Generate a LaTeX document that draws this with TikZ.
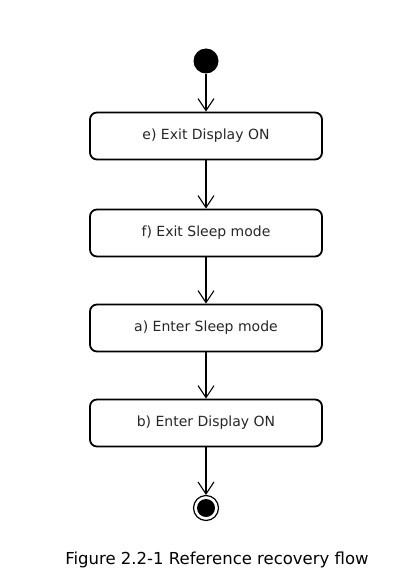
\documentclass[tikz,border=0pt]{standalone}
\usepackage{fontspec}
\setmainfont{DejaVu Sans}
\usetikzlibrary{arrows.meta}
\begin{document}
\begin{tikzpicture}[x=1pt,y=-1pt,
  actbox/.style={draw=black, line width=1.8pt, rounded corners=7pt, minimum width=232pt, minimum height=47pt, inner sep=0pt, text=black!85, font=\fontsize{14}{16}\selectfont},
  flow/.style={draw=black, line width=1.1pt, -{Straight Barb[length=12pt, width=16pt, line width=1.1pt]}},
  initnode/.style={circle, fill=black, minimum size=25pt, inner sep=0pt},
  finalring/.style={circle, draw=black, line width=1.2pt, fill=white, minimum size=25pt, inner sep=0pt},
  finaldot/.style={circle, fill=black, minimum size=18pt, inner sep=0pt}]
\useasboundingbox (0,0) rectangle (414,580);
\node[initnode] (start) at (206,61) {};
\node[actbox] (e) at (206,136) {e) Exit Display ON};
\node[actbox] (f) at (206,233) {f) Exit Sleep mode};
\node[actbox] (a) at (206,328) {a) Enter Sleep mode};
\node[actbox] (b) at (206,423) {b) Enter Display ON};
\node[finalring] (end) at (206,508) {};
\node[finaldot] (enddot) at (206,508) {};
\draw[flow] (start) -- (e);
\draw[flow] (e) -- (f);
\draw[flow] (f) -- (a);
\draw[flow] (a) -- (b);
\draw[flow] (b) -- (end);
\node[font=\fontsize{16.5}{18}\selectfont, text=black] (cap) at (217,560) {Figure 2.2-1 Reference recovery flow};
\end{tikzpicture}
\end{document}
